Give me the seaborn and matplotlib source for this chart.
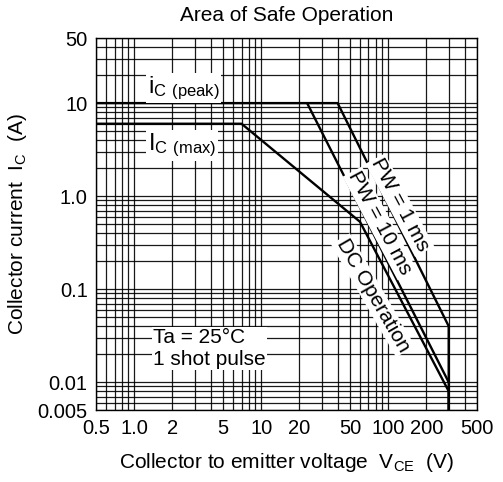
import matplotlib
matplotlib.use("Agg")
import matplotlib.pyplot as plt
import seaborn as sns
import pandas as pd
from matplotlib.ticker import LogLocator, FixedLocator, NullFormatter

# boundary lines of the safe operating area
pw1_v = [0.5, 40, 300, 300]
pw1_i = [10, 10, 0.04, 0.005]
pw10_v = [23, 300]
pw10_i = [10, 0.01]
dc_v = [0.5, 7, 60, 300, 300]
dc_i = [6, 6, 0.53, 0.008, 0.005]

x_ticks = [0.5, 1.0, 2, 5, 10, 20, 50, 100, 200, 500]
x_labels = ["0.5", "1.0", "2", "5", "10", "20", "50", "100", "200", "500"]
y_ticks = [0.005, 0.01, 0.1, 1.0, 10, 50]
y_labels = ["0.005", "0.01", "0.1", "1.0", "10", "50"]

sns.set_style("white")
plt.rcParams["font.family"] = ["Liberation Sans", "DejaVu Sans"]
plt.rcParams["mathtext.default"] = "regular"
plt.rcParams["text.color"] = "black"
plt.rcParams["axes.labelcolor"] = "black"

fig = plt.figure(figsize=(5.03, 4.82), dpi=100)
ax = fig.add_axes([0.191, 0.149, 0.757, 0.772])

df = pd.concat([
    pd.DataFrame({"V": pw1_v, "I": pw1_i, "s": "1ms"}),
    pd.DataFrame({"V": pw10_v, "I": pw10_i, "s": "10ms"}),
    pd.DataFrame({"V": dc_v, "I": dc_i, "s": "DC"}),
])
for name, g in df.groupby("s"):
    sns.lineplot(data=g, x="V", y="I", ax=ax, color="black", lw=1.7,
                 sort=False, estimator=None, zorder=5)

ax.set_xscale("log")
ax.set_yscale("log")
ax.set_xlim(0.5, 500)
ax.set_ylim(0.005, 50)

ax.xaxis.set_major_locator(FixedLocator(x_ticks))
ax.set_xticklabels(x_labels)
ax.yaxis.set_major_locator(FixedLocator(y_ticks))
ax.set_yticklabels(y_labels)
ax.xaxis.set_minor_locator(LogLocator(base=10, subs=range(1, 10), numticks=20))
ax.yaxis.set_minor_locator(LogLocator(base=10, subs=range(1, 10), numticks=20))
ax.xaxis.set_minor_formatter(NullFormatter())
ax.yaxis.set_minor_formatter(NullFormatter())
ax.tick_params(which="both", length=0, labelsize=14.5, pad=6, colors="black")
ax.grid(True, which="both", color="black", lw=0.9, alpha=0.9)
for sp in ax.spines.values():
    sp.set_color("black")
    sp.set_linewidth(1.0)

ax.set_xlabel("Collector to emitter voltage  V$_{CE}$  (V)", fontsize=15, labelpad=10)
ax.set_ylabel("Collector current  I$_C$  (A)", fontsize=15, labelpad=6)
ax.set_title("Area of Safe Operation", fontsize=15, pad=12)

box = dict(facecolor="white", edgecolor="none", pad=1)
ax.text(1.28, 14.5, "i$_{C}$$_{\\ (peak)}$", fontsize=17, bbox=box, zorder=6, va="center")
ax.text(1.28, 3.5, "I$_{C}$$_{\\ (max)}$", fontsize=17, bbox=box, zorder=6, va="center")
ax.text(1.41, 0.023, "Ta = 25°C\n1 shot pulse", fontsize=15, bbox=box,
        zorder=6, va="center", linespacing=1.2)

ax.text(124, 0.8, "PW = 1 ms", fontsize=15, rotation=-62, ha="center",
        va="center", bbox=box, zorder=6)
ax.text(86, 0.51, "PW = 10 ms", fontsize=15, rotation=-62, ha="center",
        va="center", bbox=box, zorder=6)
ax.text(76, 0.086, "DC Operation", fontsize=15, rotation=-60, ha="center",
        va="center", bbox=box, zorder=6)

fig.savefig("out.png", dpi=100)
